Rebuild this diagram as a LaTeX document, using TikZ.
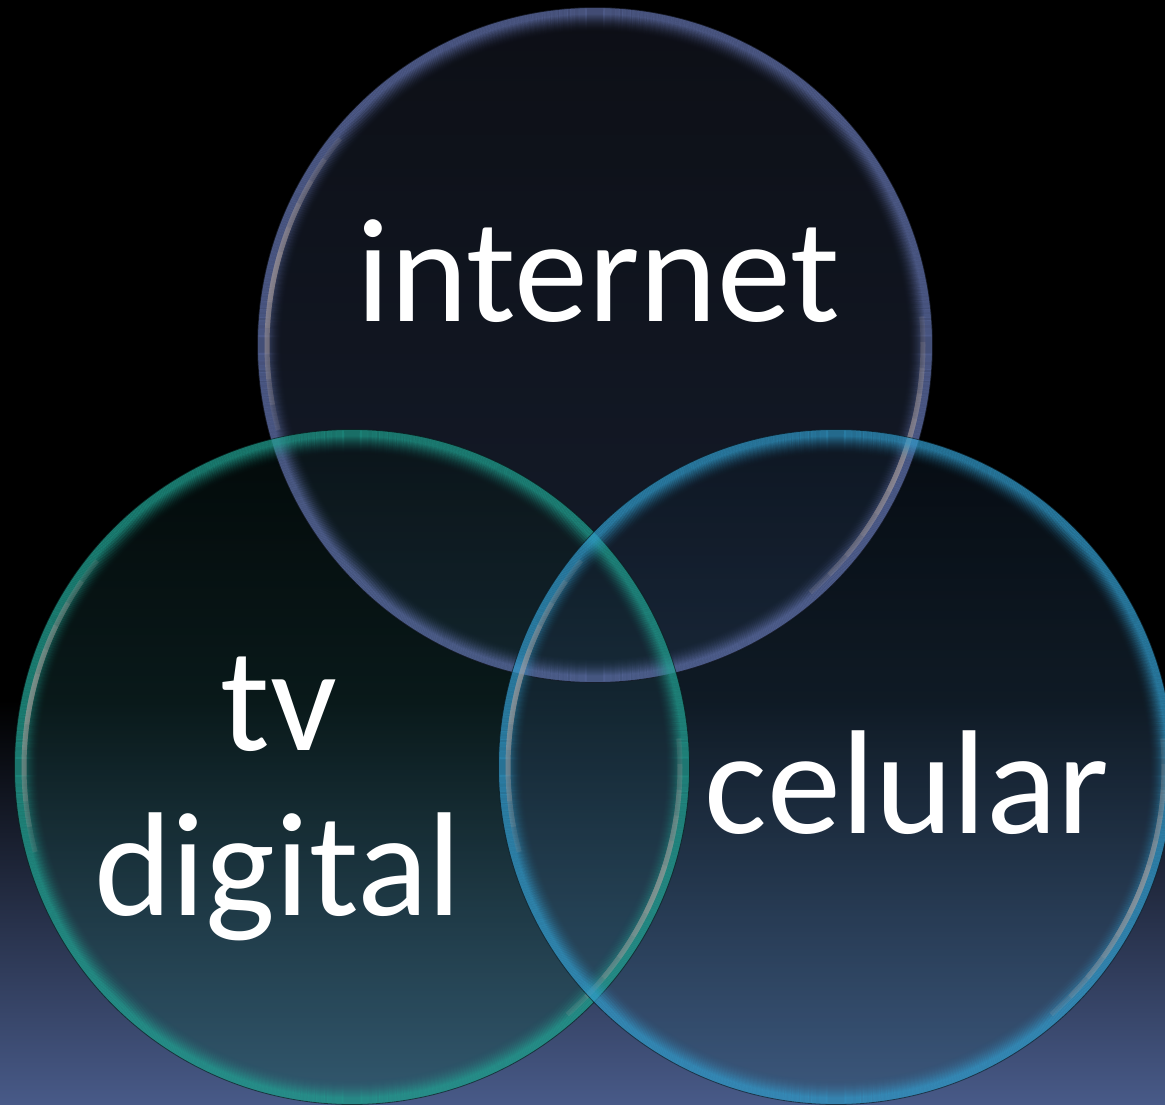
\documentclass[tikz,border=0pt]{standalone}
\usepackage{fontspec}
\setmainfont{Carlito}
\usetikzlibrary{calc}
\definecolor{bgbot}{HTML}{485A88}
\definecolor{rimI}{HTML}{6272AC}
\definecolor{topI}{HTML}{181C28}
\definecolor{midI}{HTML}{1A2030}
\definecolor{botI}{HTML}{263450}
\definecolor{rimT}{HTML}{22A494}
\definecolor{topT}{HTML}{061212}
\definecolor{midT}{HTML}{123036}
\definecolor{botT}{HTML}{22585C}
\definecolor{rimC}{HTML}{329CCC}
\definecolor{topC}{HTML}{0C1622}
\definecolor{midC}{HTML}{142838}
\definecolor{botC}{HTML}{345876}
\definecolor{hlc}{HTML}{B8AAA6}
\tikzset{
  lbl/.style={text=white, inner sep=0pt, font=\fontsize{148}{165}\selectfont},
}
\begin{document}
\begin{tikzpicture}[x=1pt,y=-1pt]
\useasboundingbox (0,0) rectangle (1165,1105);
\fill[black] (0,0) rectangle (1165,1105);
\shade[top color=black, bottom color=bgbot] (0,700) rectangle (1165,1105);
\coordinate (ci) at (595,345);
\coordinate (ct) at (352,767);
\coordinate (cc) at (836,767);
% fills
\foreach \c/\ft/\fm/\fb in {ci/topI/midI/botI, ct/topT/midT/botT, cc/topC/midC/botC}{
  \shade[top color=\ft, middle color=\fm, bottom color=\fb, fill opacity=0.55] (\c) circle[radius=337pt];
}
% rims
\foreach \c/\rim in {ci/rimI, ct/rimT, cc/rimC}{
  \foreach \i [evaluate=\i as \op using {\i<6 ? 0.6 : 0.6*(1-(\i-6)/19)^2}] in {0,...,24}
    \draw[\rim, draw opacity=\op, line width=1.3pt] (\c) circle[radius={337pt-\i*1pt}];
  \draw[black, draw opacity=0.55, line width=0.8pt] (\c) circle[radius=337.5pt];
  \foreach \k in {1,...,6}{
    \draw[hlc, draw opacity=0.14, line width=5pt]
      ($(\c)+({168-\k*4.5}:328pt)$) arc[start angle={168-\k*4.5}, end angle={168+\k*4.5}, radius=328pt];
    \draw[hlc, draw opacity=0.14, line width=5pt]
      ($(\c)+({-22-\k*4.5}:328pt)$) arc[start angle={-22-\k*4.5}, end angle={-22+\k*4.5}, radius=328pt];
  }
}
% labels
\node[lbl, anchor=base] (internet) at (598,321) {internet};
\node[lbl, anchor=base] (tv) at (279,750) {tv};
\node[lbl, anchor=base] (digital) at (278,915) {digital};
\node[lbl, anchor=base] (celular) at (907,833) {celular};
\end{tikzpicture}
\end{document}
